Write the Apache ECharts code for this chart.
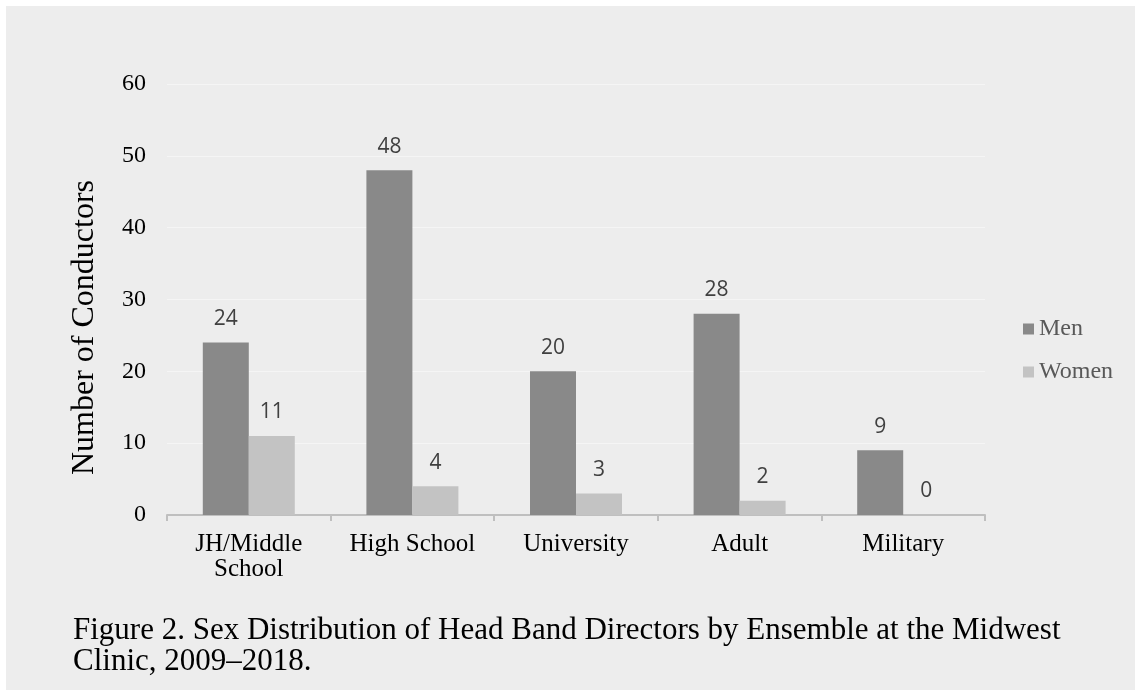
<!DOCTYPE html>
<html>
<head>
<meta charset="utf-8">
<script src="https://cdn.jsdelivr.net/npm/echarts@6/dist/echarts.min.js"></script>
<style>
  html, body { margin: 0; padding: 0; background: #ffffff; }
  #chart { position: absolute; left: 6px; top: 6px; width: 1129px; height: 684px; background: #ededed; }
</style>
</head>
<body>
<div id="chart"></div>
<script>
const categories = ['JH/Middle\nSchool', 'High School', 'University', 'Adult', 'Military']
const men = [24, 48, 20, 28, 9]
const women = [11, 4, 3, 2, 0]
const yTicks = { min: 0, max: 60, interval: 10 }

const serif = '"Liberation Serif", "Times New Roman", serif'
const sans = '"Open Sans", "DejaVu Sans", sans-serif'

const chart = echarts.init(document.getElementById('chart'))

const valueLabel = {
  show: true,
  position: 'top',
  distance: 13,
  fontFamily: sans,
  fontSize: 21,
  color: '#404040'
}

chart.setOption({
  animation: false,
  backgroundColor: '#ededed',
  title: {
    text: 'Figure 2. Sex Distribution of Head Band Directors by Ensemble at the Midwest\nClinic, 2009\u20132018.',
    left: 62,
    top: 604,
    textStyle: {
      fontFamily: serif,
      fontWeight: 'normal',
      fontSize: 31,
      lineHeight: 31,
      color: '#000'
    }
  },
  // y axis title sits a bit below the plot centre in the reference
  graphic: [{
    type: 'text',
    left: 63,
    top: 174,
    rotation: Math.PI / 2,
    style: {
      text: 'Number of Conductors',
      fontFamily: serif,
      fontSize: 32,
      fill: '#000'
    }
  }],
  legend: {
    orient: 'vertical',
    left: 1012,
    top: 306,
    itemWidth: 11,
    itemHeight: 11,
    itemGap: 19,
    icon: 'rect',
    textStyle: { fontFamily: serif, fontSize: 24, color: '#595959' },
    data: ['Men', 'Women']
  },
  grid: { left: 161, right: 150, top: 78, bottom: 175 },
  xAxis: {
    type: 'category',
    data: categories,
    axisLine: { lineStyle: { color: '#bfbfbf', width: 2 } },
    axisTick: { show: true, length: 6, lineStyle: { color: '#bfbfbf', width: 2 } },
    axisLabel: {
      margin: 17,
      fontFamily: serif,
      fontSize: 25,
      lineHeight: 25,
      color: '#000'
    }
  },
  yAxis: {
    type: 'value',
    min: yTicks.min,
    max: yTicks.max,
    interval: yTicks.interval,
    axisLine: { show: false },
    axisTick: { show: false },
    axisLabel: { margin: 21, fontFamily: serif, fontSize: 24, color: '#000' },
    splitLine: { lineStyle: { color: '#f5f5f5', width: 1 } }
  },
  series: [
    {
      name: 'Men',
      type: 'bar',
      data: men,
      barWidth: 46,
      barGap: '0%',
      itemStyle: { color: '#898989' },
      label: valueLabel
    },
    {
      name: 'Women',
      type: 'bar',
      data: women,
      barWidth: 46,
      itemStyle: { color: '#c3c3c3' },
      label: valueLabel
    }
  ]
})
</script>
</body>
</html>
